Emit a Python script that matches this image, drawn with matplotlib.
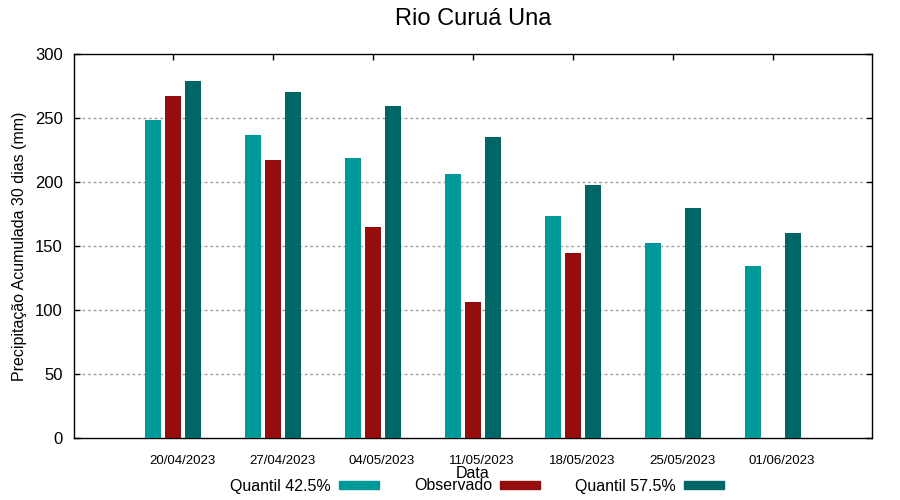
import numpy as np
import matplotlib
matplotlib.use("Agg")
import matplotlib.pyplot as plt
from matplotlib.patches import Rectangle
from matplotlib.transforms import ScaledTranslation

plt.rcParams['font.family'] = ['Liberation Sans', 'DejaVu Sans']

# data
datas = ['20/04/2023', '27/04/2023', '04/05/2023', '11/05/2023',
         '18/05/2023', '25/05/2023', '01/06/2023']
quantil_425 = [248.4, 236.7, 218.8, 206.3, 173.4, 152.3, 134.4]
observado = [267.2, 217.2, 164.8, 106.3, 144.5, np.nan, np.nan]
quantil_575 = [278.9, 270.3, 259.4, 235.2, 197.7, 179.7, 160.2]

c_q425 = '#009999'
c_obs = '#960d0d'
c_q575 = '#006666'

fig = plt.figure(figsize=(9, 5), dpi=100)
ax = fig.add_axes([74 / 900, 1 - 438 / 500, (872 - 74) / 900, (438 - 54) / 500])

x = np.arange(len(datas))
w = 0.16
ax.bar(x - 0.2, quantil_425, w, color=c_q425, zorder=3)
ax.bar(x, observado, w, color=c_obs, zorder=3)
ax.bar(x + 0.2, quantil_575, w, color=c_q575, zorder=3)

ax.set_xlim(-0.99, 6.99)
ax.set_ylim(0, 300)
ax.set_yticks(np.arange(0, 301, 50))
for v in range(50, 300, 50):
    ax.axhline(v, xmin=0.01, xmax=0.99, color='#a0a0a0', lw=1,
               ls=(0, (2, 2)), zorder=1)

ax.set_xticks(x)
ax.set_xticklabels(datas, fontsize=9.5)
ax.tick_params(axis='x', bottom=False, top=True, direction='in', length=4, width=1, pad=12)
ax.tick_params(axis='y', left=True, right=True, direction='in', length=4, width=1,
               labelsize=12, pad=8)
off = ScaledTranslation(9 / 100, 0, fig.dpi_scale_trans)
for lbl in ax.get_xticklabels():
    lbl.set_transform(lbl.get_transform() + off)

for s in ax.spines.values():
    s.set_linewidth(1)

ax.set_ylabel('Precipitação Acumulada 30 dias (mm)', fontsize=11.5, labelpad=6)
fig.text(473 / 900, 1 - 474 / 500, 'Data', ha='center', va='center', fontsize=11.5)
fig.text(473 / 900, 1 - 19 / 500, 'Rio Curuá Una', ha='center', va='center', fontsize=17)

handles = [Rectangle((0, 0), 1, 1, color=c) for c in (c_q425, c_obs, c_q575)]
leg = fig.legend(handles, ['Quantil 42.5%', 'Observado', 'Quantil 57.5%'],
                 loc='center', bbox_to_anchor=(477 / 900, 1 - 486 / 500), ncol=3,
                 frameon=False, markerfirst=False, handlelength=2.5, handleheight=0.45,
                 handletextpad=0.5, columnspacing=2.2,
                 prop={'size': 11.5})

fig.savefig('out.png', dpi=100)
